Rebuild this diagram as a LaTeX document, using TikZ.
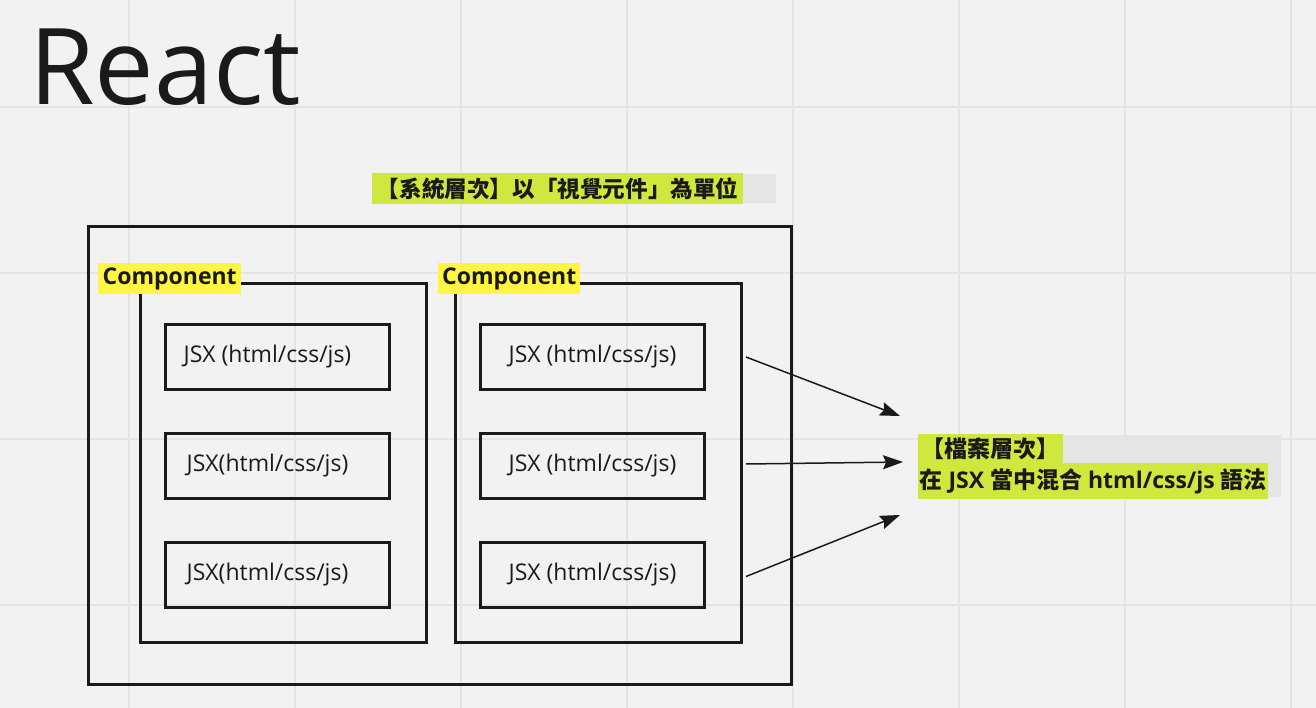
\documentclass[tikz,border=0pt]{standalone}
\usepackage{fontspec}
\setmainfont{Open Sans}
\newfontfamily\cjk{Noto Sans CJK TC}
\usetikzlibrary{arrows.meta,positioning,calc}
\definecolor{paper}{HTML}{F2F2F2}
\definecolor{gridc}{HTML}{E4E4E4}
\definecolor{shade}{HTML}{E5E5E5}
\definecolor{ink}{HTML}{1A1A1A}
\definecolor{limetag}{HTML}{D0E83E}
\definecolor{yellowtag}{HTML}{FFF542}

\begin{document}
\begin{tikzpicture}[x=1pt,y=-1pt,>={Stealth[length=20pt,width=14pt,inset=3pt]},
  frame/.style={draw=ink,line width=3pt,inner sep=0pt},
  jsxbox/.style={frame,minimum width=224pt,minimum height=65pt,text=ink,font=\fontsize{23}{27}\selectfont},
  jsxleft/.style={jsxbox,execute at end node=\hspace*{20pt}},
  tag/.style={fill=yellowtag,inner sep=0pt,minimum height=31pt,text=ink,font=\bfseries\fontsize{23}{27}\selectfont},
  note/.style={fill=limetag,inner sep=0pt,text=ink,font=\bfseries\fontsize{23}{27}\selectfont},
  gridline/.style={draw=gridc,line width=2pt}]
  % canvas and grid
  \fill[paper] (0,0) rectangle (1316,708);
  \useasboundingbox (0,0) rectangle (1316,708);
  \foreach \gx in {129,295,...,1291} \draw[gridline] (\gx,0) -- (\gx,708);
  \foreach \gy in {107,273,...,605} \draw[gridline] (0,\gy) -- (1316,\gy);

  \node[anchor=base west,inner sep=0pt,text=ink,font=\fontsize{106}{118}\selectfont] (title) at (29,105) {React};

  % system level
  \node[fill=shade,anchor=north west,minimum width=404pt,minimum height=29pt,inner sep=0pt] (sysshade) at (372,174) {};
  \node[note,anchor=north west,minimum width=371pt,minimum height=31pt,font=\bfseries\fontsize{22.6}{26}\selectfont] (syslabel) at (372,173) {\cjk 【系統層次】以「視覺元件」為單位};

  \node[frame,anchor=north west,minimum width=703pt,minimum height=458pt] (outer) at (87,225) {};
  \node[frame,anchor=north west,minimum width=286pt,minimum height=359pt] (compL) at (139,282) {};
  \node[frame,anchor=north west,minimum width=286pt,minimum height=359pt] (compR) at (454,282) {};
  \node[tag,anchor=north west,minimum width=143pt] (tagL) at (98,263) {Component};
  \node[tag,anchor=north west,minimum width=142pt] (tagR) at (438,263) {Component};

  \node[jsxleft,anchor=north west] (jsxL1) at (164,323) {JSX (html/css/js)};
  \node[jsxleft,below=41pt of jsxL1] (jsxL2) {JSX(html/css/js)};
  \node[jsxleft,below=41pt of jsxL2] (jsxL3) {JSX(html/css/js)};
  \node[jsxbox,right=88pt of jsxL1] (jsxR1) {JSX (html/css/js)};
  \node[jsxbox,right=88pt of jsxL2] (jsxR2) {JSX (html/css/js)};
  \node[jsxbox,right=88pt of jsxL3] (jsxR3) {JSX (html/css/js)};

  % file level
  \node[fill=shade,anchor=north west,minimum width=363pt,minimum height=62pt,inner sep=0pt] (filenote) at (918,435) {};
  \node[note,anchor=north west,minimum width=145pt,minimum height=29pt] (filehead) at (918,434) {\cjk 【檔案層次】};
  \node[note,anchor=north west,minimum width=350pt,minimum height=36pt] (filetext) at (918,463) {{\cjk 在} JSX {\cjk 當中混合} html/css/js {\cjk 語法}};

  \coordinate (src1) at ($(jsxR1.east)+(40,0)$);
  \coordinate (src2) at ($(jsxR2.east)+(40,-2)$);
  \coordinate (src3) at ($(jsxR3.east)+(40,1.5)$);
  \coordinate (tip1) at ($(filenote.north west)+(-18,-19)$);
  \coordinate (tip2) at ($(filenote.north west)+(-15,27)$);
  \coordinate (tip3) at ($(filenote.north west)+(-18,80)$);
  \draw[->,ink,line width=1.5pt] (src1) -- (tip1);
  \draw[->,ink,line width=1.5pt] (src2) -- (tip2);
  \draw[->,ink,line width=1.5pt] (src3) -- (tip3);
\end{tikzpicture}
\end{document}
